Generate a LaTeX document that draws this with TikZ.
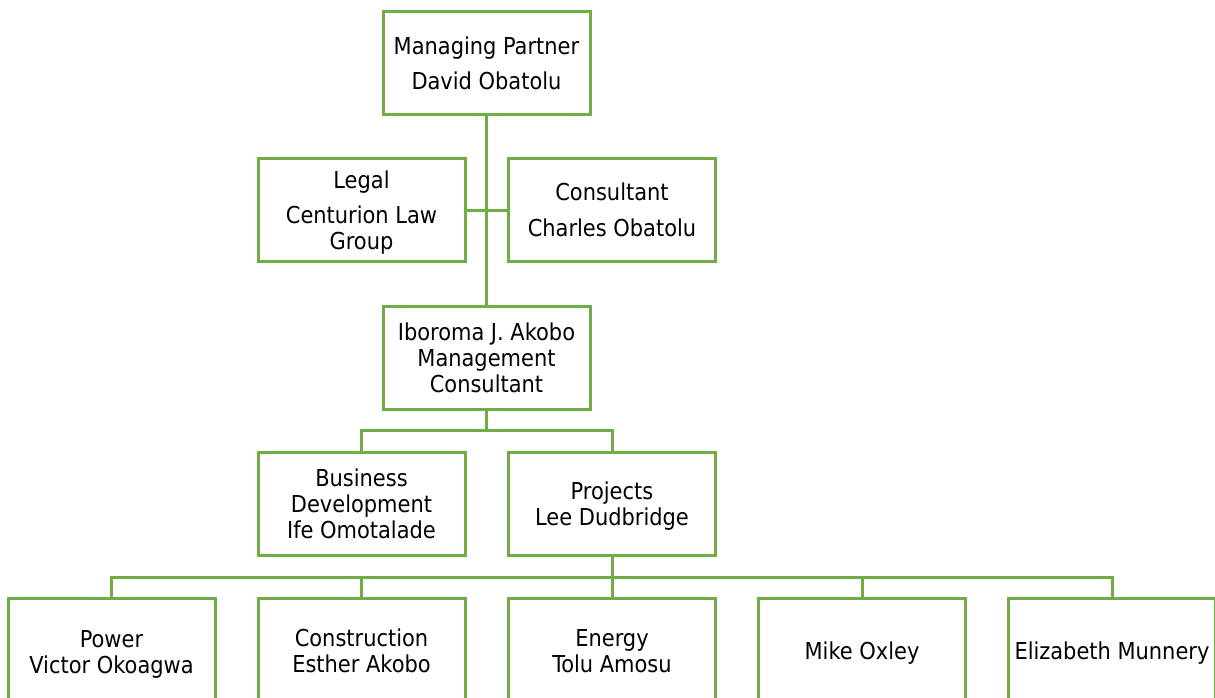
\documentclass[tikz,border=0pt]{standalone}
\usepackage{fontspec}
\setmainfont{DejaVu Sans Condensed}
\definecolor{boxgreen}{HTML}{70AD47}
\begin{document}
\begin{tikzpicture}[x=1pt,y=-1pt,
  box/.style={draw=boxgreen, line width=3pt, fill=white, minimum width=207pt, minimum height=103pt, inner sep=0pt},
  txt/.style={inner sep=0pt, align=center, font=\fontsize{23.3}{26}\selectfont, text=black},
  link/.style={draw=boxgreen, line width=3pt}]
\useasboundingbox (0,0) rectangle (1215,697);
\clip (0,0) rectangle (1215,697);
\node[box] (mp) at (486.5,62.5) {};
\node[box] (legal) at (361.5,210) {};
\node[box] (cons) at (612,210) {};
\node[box] (ib) at (486.5,357.5) {};
\node[box] (bd) at (361.5,504) {};
\node[box] (pr) at (612,504) {};
\node[box] (c1) at (111.5,650) {};
\node[box] (c2) at (361.5,650) {};
\node[box] (c3) at (612,650) {};
\node[box] (c4) at (862,650) {};
\node[box] (c5) at (1112,650) {};
\node[txt] (mpt) at ([yshift=-1pt]mp.center) {Managing Partner\\[9pt]David Obatolu};
\node[txt] (legalt) at ([yshift=-3pt]legal.center) {Legal\\[9pt]Centurion Law\\Group};
\node[txt] (const) at (cons.center) {Consultant\\[10pt]Charles Obatolu};
\node[txt] (ibt) at (ib.center) {Iboroma J. Akobo\\Management\\Consultant};
\node[txt] (bdt) at (bd.center) {Business\\Development\\Ife Omotalade};
\node[txt] (prt) at ([yshift=-2pt]pr.center) {Projects\\Lee Dudbridge};
\node[txt] (c1t) at ([yshift=-4pt]c1.center) {Power\\Victor Okoagwa};
\node[txt] (c2t) at ([yshift=-1pt]c2.center) {Construction\\Esther Akobo};
\node[txt] (c3t) at ([yshift=-1pt]c3.center) {Energy\\Tolu Amosu};
\node[txt] (c4t) at ([yshift=-3pt]c4.center) {Mike Oxley};
\node[txt] (c5t) at ([yshift=-3pt]c5.center) {Elizabeth Munnery};
\coordinate (j1) at (486.5,430);
\coordinate (j2) at (612,577);
\draw[link] (mp.south) -- (ib.north);
\draw[link] (legal.east) -- (cons.west);
\draw[link] (ib.south) -- (j1);
\draw[link] (bd.north) |- (j1) -| (pr.north);
\draw[link] (pr.south) -- (j2);
\draw[link] (c1.north) |- (j2) -| (c5.north);
\draw[link] (c2.north) -- (c2.north |- j2);
\draw[link] (c3.north) -- (c3.north |- j2);
\draw[link] (c4.north) -- (c4.north |- j2);
\end{tikzpicture}
\end{document}
